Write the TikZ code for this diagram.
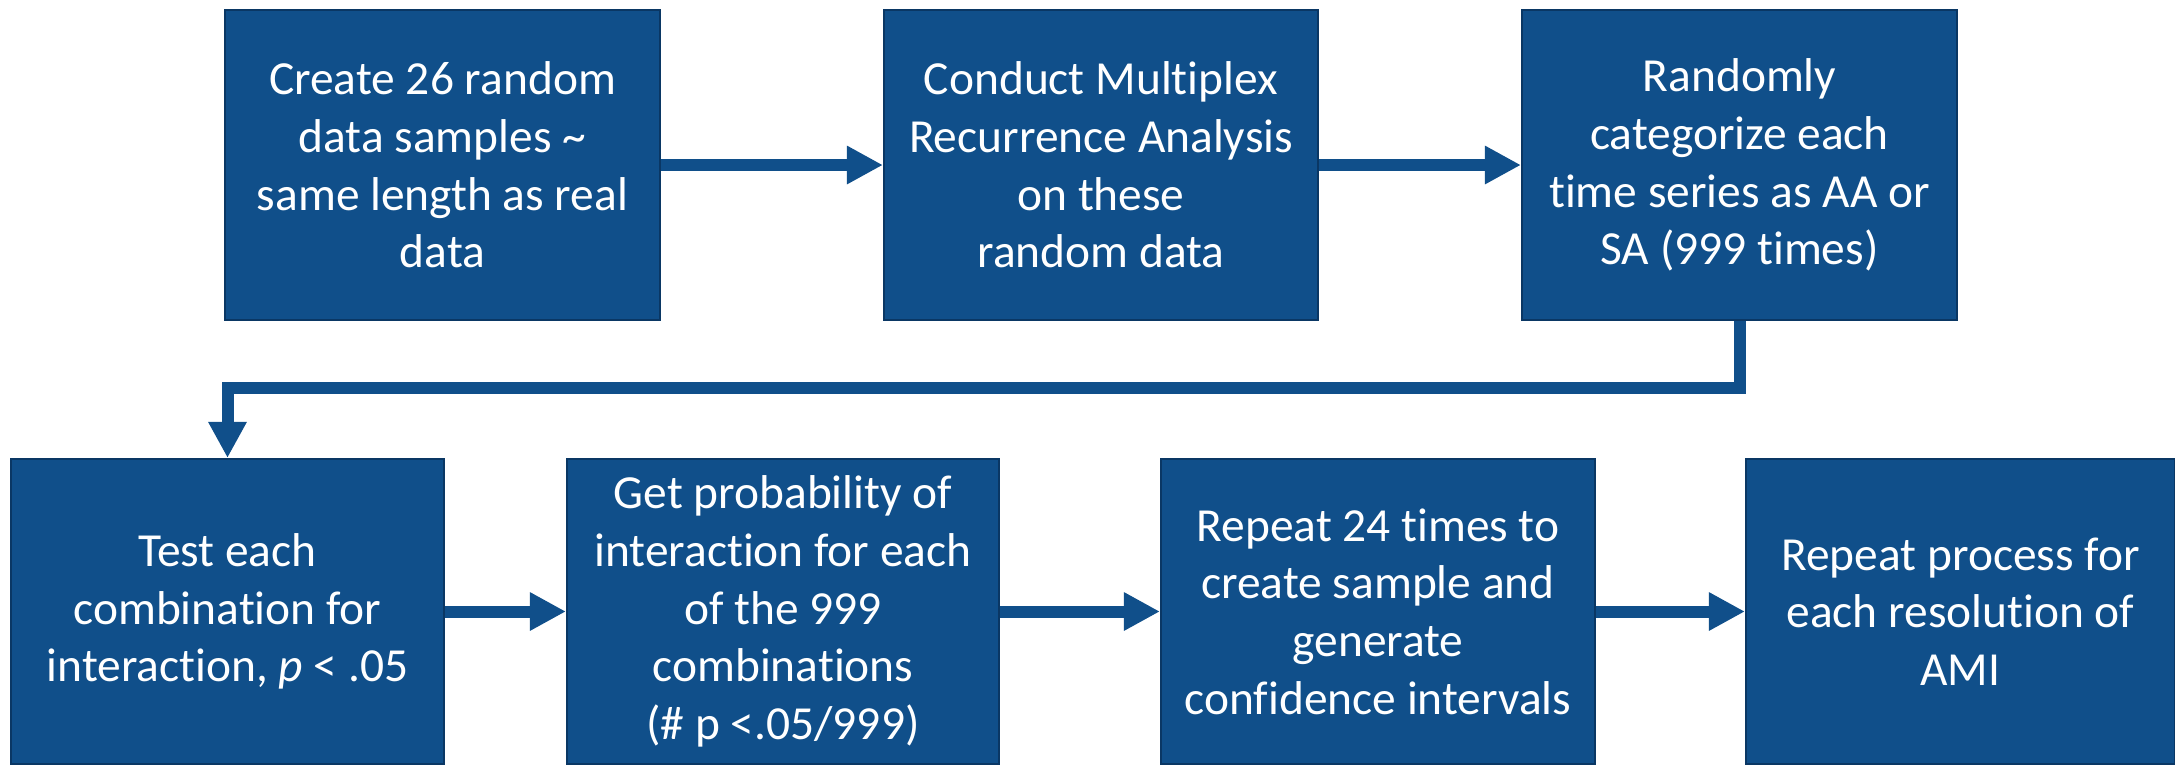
\documentclass[tikz,border=0pt]{standalone}
\usepackage{fontspec}
\setmainfont{Carlito}[Ligatures={NoCommon,NoContextual}, RawFeature={-liga;-clig}]
\usetikzlibrary{arrows.meta}
\definecolor{boxblue}{RGB}{16,79,138}
\definecolor{boxedge}{RGB}{10,55,100}
\begin{document}
\begin{tikzpicture}[x=1cm,y=1cm,
  stepbox/.style={draw=boxedge, line width=0.6pt, fill=boxblue, text=white,
    align=center, inner sep=0pt, minimum height=3.10cm,
    font=\fontsize{13.5}{16.4}\selectfont},
  lowbox/.style={stepbox, minimum height=3.05cm},
  flow/.style={draw=boxblue, line width=0.12cm,
    -{Triangle[length=0.36cm,width=0.36cm]}}]
\useasboundingbox (0,0) rectangle (21.75,-7.64);

% top row
\node[stepbox, minimum width=4.35cm] (b1) at (4.425,-1.65)
  {Create 26 random\\data samples \textasciitilde\\same length as real\\data};
\node[stepbox, minimum width=4.34cm] (b2) at (11.01,-1.65)
  {Conduct Multiplex\\Recurrence Analysis\\on these\\random data};
\node[stepbox, minimum width=4.35cm] (b3) at (17.395,-1.65)
  {Randomly\\categorize each\\time series as AA or\\SA (999 times)};

% bottom row
\node[lowbox, minimum width=4.33cm] (b4) at (2.275,-6.115)
  {Test each\\combination for\\interaction, \textit{p} < .05};
\node[lowbox, minimum width=4.32cm] (b5) at (7.83,-6.115)
  {Get probability of\\interaction for each\\of the 999\\combinations\\(\# p <.05/999)};
\node[lowbox, minimum width=4.34cm] (b6) at (13.78,-6.115)
  {Repeat 24 times to\\create sample and\\generate\\confidence intervals};
\node[lowbox, minimum width=4.29cm] (b7) at (19.605,-6.115)
  {Repeat process for\\each resolution of\\AMI};

% connectors
\draw[flow] (b1) -- (b2);
\draw[flow] (b2) -- (b3);
\coordinate (turn) at (0,-3.88);
\draw[flow] (b3.south) -- (b3.south |- turn) -| (b4.north);
\draw[flow] (b4) -- (b5);
\draw[flow] (b5) -- (b6);
\draw[flow] (b6) -- (b7);
\end{tikzpicture}
\end{document}
